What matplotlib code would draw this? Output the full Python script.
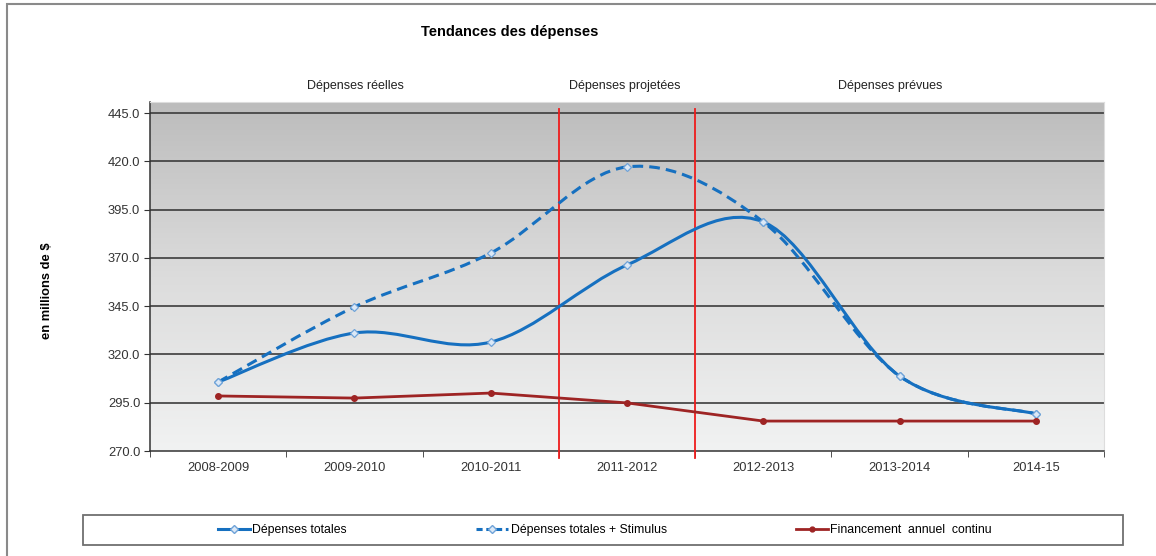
import numpy as np
import matplotlib.pyplot as plt
from matplotlib.path import Path
from matplotlib.patches import PathPatch, Rectangle
from matplotlib.lines import Line2D

plt.rcParams['font.family'] = ['Liberation Sans', 'DejaVu Sans']

years = ['2008-2009', '2009-2010', '2010-2011', '2011-2012', '2012-2013', '2013-2014', '2014-15']
depenses_totales = [305.7, 331.1, 326.4, 366.3, 388.6, 308.8, 289.2]
depenses_stimulus = [305.7, 344.6, 372.5, 417.1, 388.6, 308.8, 289.2]
financement = [298.5, 297.4, 300.0, 294.9, 285.5, 285.5, 285.5]
periods = ['Dépenses réelles', 'Dépenses projetées', 'Dépenses prévues']

blue = '#1670c0'
dark_red = '#9e2424'


def smooth_path(xs, ys):
    # Excel-style smoothed line: Catmull-Rom as cubic Bezier segments
    pts = np.column_stack([xs, ys]).astype(float)
    ext = np.vstack([pts[0], pts, pts[-1]])
    verts = [pts[0]]
    codes = [Path.MOVETO]
    for i in range(1, len(ext) - 2):
        p0, p1, p2, p3 = ext[i - 1], ext[i], ext[i + 1], ext[i + 2]
        verts += [p1 + (p2 - p0) / 6, p2 - (p3 - p1) / 6, p2]
        codes += [Path.CURVE4] * 3
    return Path(verts, codes)


fig = plt.figure(figsize=(11.56, 5.56), dpi=100)
ax = fig.add_axes([150 / 1156, 105 / 556, 954 / 1156, 349 / 556])

x = np.arange(len(years))
ax.set_xlim(-0.5, len(years) - 0.5)
ax.set_ylim(270, 450.7)

# gradient background
grad = np.linspace(0, 1, 256).reshape(-1, 1)
ax.imshow(grad, extent=[0, 1, 0, 1], transform=ax.transAxes, aspect='auto',
          cmap=plt.matplotlib.colors.LinearSegmentedColormap.from_list('g', ['#f1f2f2', '#dcdcdc', '#bcbcbc']),
          origin='lower', zorder=0)

yt = np.arange(270, 446, 25)
ax.set_yticks(yt)
ax.set_yticklabels([f'{v:.1f}' for v in yt], fontsize=9.3, color='#333333')
for v in yt[1:]:
    ax.axhline(v, color='#3c3c3c', lw=1.2, zorder=1)

ax.set_xticks(x)
ax.set_xticklabels(years, fontsize=9.3, color='#333333')
ax.set_xticks(np.arange(-0.5, len(years)), minor=True)
ax.tick_params(axis='x', which='major', length=0, pad=8)
ax.tick_params(axis='x', which='minor', length=4, color='#333333')
ax.tick_params(axis='y', length=4, color='#333333', pad=3)

for s in ['top', 'right']:
    ax.spines[s].set_color('#dddddd')
for s in ['left', 'bottom']:
    ax.spines[s].set_color('#333333')
    ax.spines[s].set_linewidth(1.1)

# period separators
for xv in [2.5, 3.5]:
    ax.plot([xv, xv], [447, 266.5], color='#ee1c1c', lw=1.3, zorder=3, clip_on=False)

# smoothed blue series
ax.add_patch(PathPatch(smooth_path(x, depenses_stimulus), fill=False, ec=blue, lw=2.2,
                       ls=(0, (3.5, 2)), zorder=4))
ax.add_patch(PathPatch(smooth_path(x, depenses_totales), fill=False, ec=blue, lw=2.2, zorder=4))
ax.plot(x, depenses_stimulus, ls='none', marker='D', ms=4.5, mfc='#dbe8f6', mec='#6fa3d8', mew=0.9, zorder=5)
ax.plot(x, depenses_totales, ls='none', marker='D', ms=4.5, mfc='#dbe8f6', mec='#6fa3d8', mew=0.9, zorder=5)

ax.plot(x, financement, color=dark_red, lw=2, marker='o', ms=4, zorder=5)

ax.set_ylabel('en millions de $', fontsize=9.3, fontweight='bold')
ax.yaxis.set_label_coords(-97 / 954, 0.46)

# texts above the plot
fig.text(510 / 1156, 1 - 32 / 556, 'Tendances des dépenses', fontsize=10.5, fontweight='bold',
         ha='center', va='center')
for xp, lab in zip([355, 625, 890], periods):
    fig.text(xp / 1156, 1 - 86 / 556, lab, fontsize=9, ha='center', va='center', color='#222222')

# outer frame
fig.patches.append(Rectangle((7 / 1156, -0.1), 1.2, 1 - 4 / 556 + 0.1, transform=fig.transFigure,
                             fill=False, ec='#8a8a8a', lw=1.5))
# legend box
fig.patches.append(Rectangle((83 / 1156, 1 - 545 / 556), 1040 / 1156, 30 / 556, transform=fig.transFigure,
                             fill=False, ec='#707070', lw=1.3))
handles = [
    Line2D([], [], color=blue, lw=2.2, marker='D', ms=4, mfc='#dbe8f6', mec='#6fa3d8'),
    Line2D([], [], color=blue, lw=2.2, ls=(0, (2, 1.2)), marker='D', ms=4, mfc='#dbe8f6', mec='#6fa3d8'),
    Line2D([], [], color=dark_red, lw=2, marker='o', ms=3.5),
]
fig.legend(handles, ['Dépenses totales', 'Dépenses totales + Stimulus', 'Financement  annuel  continu'],
           loc='center', bbox_to_anchor=(605 / 1156, 1 - 530 / 556), ncol=3, frameon=False,
           fontsize=8.8, columnspacing=10.6, handlelength=2.6, handletextpad=0.2)

fig.savefig('out.png', dpi=100)
